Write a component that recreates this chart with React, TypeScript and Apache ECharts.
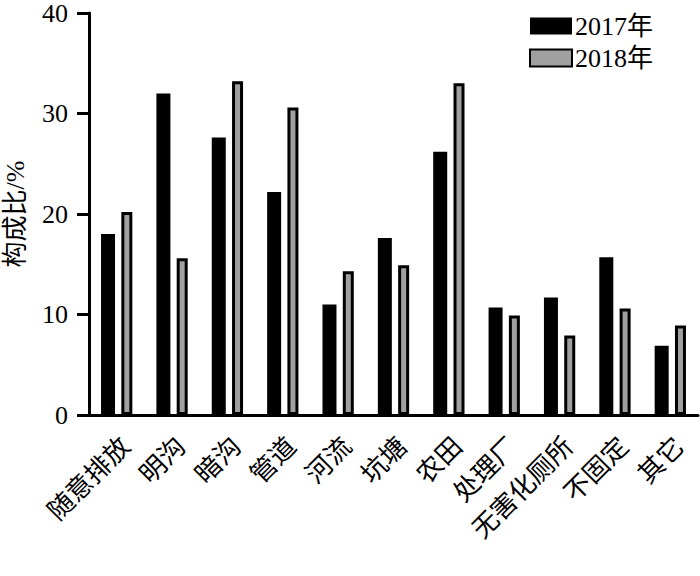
import React, { useEffect, useRef } from "react";
import * as echarts from "echarts";

const categories = ["随意排放", "明沟", "暗沟", "管道", "河流", "坑塘", "农田", "处理厂", "无害化厕所", "不固定", "其它"];
const values2017 = [18.0, 32.0, 27.6, 22.2, 11.0, 17.6, 26.2, 10.7, 11.7, 15.7, 6.9];
const values2018 = [20.2, 15.6, 33.2, 30.6, 14.3, 14.9, 33.0, 9.9, 7.9, 10.6, 8.9];
const seriesNames = ["2017年", "2018年"];
const yAxisName = "构成比/%";

const FONT = "'Liberation Serif', 'Times New Roman', 'Noto Sans CJK SC', serif";

export default function App() {
  const ref = useRef<HTMLDivElement>(null);
  useEffect(() => {
    if (!ref.current) return;
    const chart = echarts.init(ref.current, undefined, { renderer: "svg" });
    chart.setOption({
      animation: false,
      backgroundColor: "#ffffff",
      textStyle: { fontFamily: FONT, color: "#000" },
      grid: { left: 89, right: 2, top: 13, bottom: 161, containLabel: false, outerBoundsMode: "none" },
      legend: {
        data: seriesNames.map((n) => ({ name: n, icon: "rect" })),
        orient: "vertical",
        right: 42,
        top: 8,
        itemWidth: 42,
        itemHeight: 17,
        itemGap: 6,
        textStyle: { fontFamily: FONT, fontSize: 26, color: "#000", padding: [0, 0, 0, -2] },
      },
      xAxis: {
        type: "category",
        data: categories,
        axisLine: { lineStyle: { color: "#000", width: 3 } },
        axisTick: { alignWithLabel: true, length: 10, lineStyle: { width: 3, color: "#000" } },
        axisLabel: {
          rotate: 45,
          interval: 0,
          margin: 18,
          verticalAlign: "top",
          fontSize: 26,
          color: "#000",
          fontFamily: FONT,
        },
      },
      yAxis: {
        type: "value",
        min: 0,
        max: 40,
        interval: 10,
        name: yAxisName,
        nameLocation: "middle",
        nameGap: 61,
        nameTextStyle: { fontSize: 26, color: "#000", fontFamily: FONT },
        axisLine: { show: true, lineStyle: { color: "#000", width: 3 } },
        axisTick: { show: true, length: 12, lineStyle: { width: 3, color: "#000" } },
        axisLabel: { fontSize: 26, color: "#000", margin: 21, fontFamily: FONT },
        splitLine: { show: false },
      },
      series: [
        {
          name: seriesNames[0],
          type: "bar",
          data: values2017,
          barWidth: 14,
          barGap: "45%",
          itemStyle: { color: "#000" },
        },
        {
          name: seriesNames[1],
          type: "bar",
          data: values2018,
          barWidth: 11,
          itemStyle: { color: "#a0a0a0", borderColor: "#000", borderWidth: 3 },
        },
      ],
    });
    return () => chart.dispose();
  }, []);
  return (
    <div
      ref={ref}
      style={{ position: "fixed", left: 0, top: 0, width: 700, height: 576 }}
    />
  );
}
